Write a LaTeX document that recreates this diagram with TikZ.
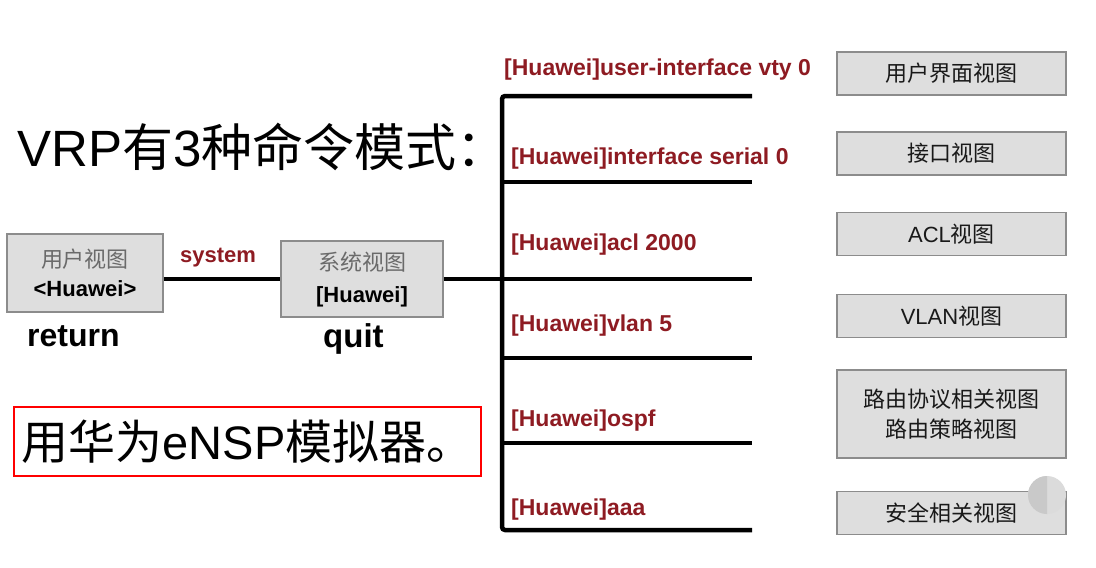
\documentclass[tikz,border=0pt]{standalone}
\usepackage{fontspec}
\setmainfont{Liberation Sans}
\newfontfamily\cjk{Noto Sans CJK SC}
\definecolor{dred}{HTML}{8E1B22}
\definecolor{boxfill}{HTML}{DEDEDE}
\definecolor{boxdraw}{HTML}{8C8C8C}
\definecolor{boxtext}{HTML}{6A6A6A}
\begin{document}
\begin{tikzpicture}[x=1pt,y=-1pt,
  graybox/.style={draw=boxdraw, line width=1.8pt, fill=boxfill, inner sep=0pt, align=center},
  viewbox/.style={graybox, minimum width=229pt, minimum height=43pt, text=black!90,
    font=\fontsize{22}{30}\selectfont},
  cmd/.style={anchor=base west, text=dred, inner sep=0pt, font=\fontsize{23}{23}\selectfont\bfseries},
  wire/.style={line width=4.5pt, black},
]
\useasboundingbox[fill=white] (0,0) rectangle (1096,568);

% title
\node[anchor=base west, inner sep=0pt, font=\fontsize{51}{51}\selectfont] (title) at (17,166)
  {VRP{\cjk 有}3{\cjk 种命令模式：}};

% red framed note
\node[draw=red, line width=2.8pt, minimum width=467pt, minimum height=69pt, inner sep=0pt,
  font=\fontsize{47}{47}\selectfont] (ensp) at (247.5,441.5)
  {{\cjk 用华为}eNSP{\cjk 模拟器。}};

% left boxes
\node[graybox, minimum width=156pt, minimum height=78pt, font=\fontsize{22}{29}\selectfont] (user) at (85,273)
  {{\cjk\color{boxtext}用户视图}\\\bfseries <Huawei>};
\node[graybox, minimum width=162pt, minimum height=76pt, font=\fontsize{22}{32}\selectfont] (sys) at (362,279)
  {{\cjk\color{boxtext}系统视图}\\\bfseries [Huawei]};

\node[anchor=base west, inner sep=0pt, text=dred, font=\fontsize{22}{22}\selectfont\bfseries] (system) at (180,262) {system};
\node[anchor=base west, inner sep=0pt, font=\fontsize{32}{32}\selectfont\bfseries] (return) at (27,346) {return};
\node[anchor=base west, inner sep=0pt, font=\fontsize{33}{33}\selectfont\bfseries] (quit) at (323,347) {quit};

% connectors
\coordinate (jn) at (502,279);
\coordinate (vt) at (502,96);
\coordinate (vb) at (502,530);
\coordinate (e1) at (752,96);
\coordinate (e2) at (752,182);
\coordinate (e3) at (752,279);
\coordinate (e4) at (752,358);
\coordinate (e5) at (752,443);
\coordinate (e6) at (752,530);
\draw[wire] (user.east |- sys.west) -- (sys.west);
\draw[wire] (sys.east) -- (jn);
\draw[wire, line cap=butt, rounded corners=3pt] (e1) -- (vt) -- (vb) -- (e6);
\draw[wire] (vt |- e2) -- (e2);
\draw[wire] (jn) -- (e3);
\draw[wire] (vt |- e4) -- (e4);
\draw[wire] (vt |- e5) -- (e5);

% command labels
\node[cmd] (c1) at (504,75) {[Huawei]user-interface vty 0};
\node[cmd] (c2) at (511,164) {[Huawei]interface serial 0};
\node[cmd] (c3) at (511,250) {[Huawei]acl 2000};
\node[cmd] (c4) at (511,331) {[Huawei]vlan 5};
\node[cmd] (c5) at (511,426) {[Huawei]ospf};
\node[cmd] (c6) at (511,515) {[Huawei]aaa};

% view boxes
\node[viewbox] (v1) at (951.5,73.5) {\cjk 用户界面视图};
\node[viewbox] (v2) at (951.5,153.5) {\cjk 接口视图};
\node[viewbox] (v3) at (951.5,234) {ACL{\cjk 视图}};
\node[viewbox] (v4) at (951.5,316) {VLAN{\cjk 视图}};
\node[viewbox, minimum height=88pt] (v5) at (951.5,414) {\cjk 路由协议相关视图\\\cjk 路由策略视图};
\node[viewbox] (v6) at (951.5,513) {\cjk 安全相关视图};

% overlay dot
\fill[gray!28] (1047,495) circle[radius=19];
\fill[gray!42] (1047,476) arc[start angle=-90, end angle=-270, radius=19] -- cycle;
\end{tikzpicture}
\end{document}
